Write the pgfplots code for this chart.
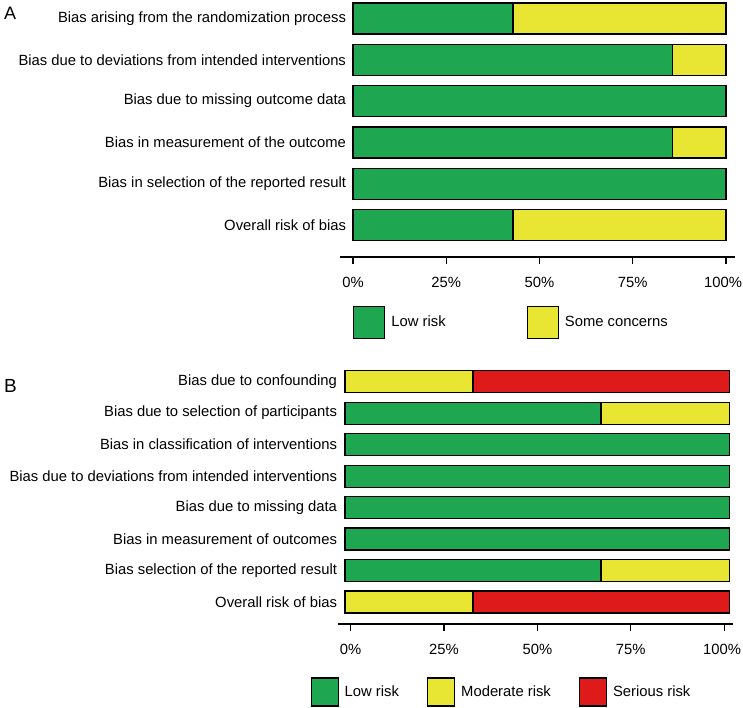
\documentclass[border=0pt]{standalone}
\usepackage{pgfplots}
\pgfplotsset{compat=1.18}
\usepackage{fontspec}
\setmainfont{Liberation Sans}
\definecolor{lowg}{RGB}{31,166,80}
\definecolor{someY}{RGB}{232,230,50}
\definecolor{serR}{RGB}{222,26,26}
\pgfplotsset{
  robbase/.style={
    scale only axis,
    xbar stacked,
    axis x line*=bottom, axis y line*=left,
    y axis line style={draw=none},
    x axis line style={line width=1.2pt,-},
    tick align=outside,
    major tick length=7pt,
    xtick style={line width=1.2pt,black},
    ytick style={draw=none},
    /pgf/number format/assume math mode=true,
    tick label style={font=\fontsize{14.8}{17}\selectfont},
    xticklabel style={yshift=-10pt},
    every axis plot/.append style={draw=black, line width=1.2pt},
    legend style={draw=none, fill=none, inner sep=0pt, font=\fontsize{14.8}{17}\selectfont,
      /tikz/every odd column/.append style={column sep=4pt}},
    legend cell align=left,
  }
}
\begin{document}
\begin{tikzpicture}
\useasboundingbox (0pt,0pt) rectangle (743pt,-708pt);
\node[anchor=north west, inner sep=0pt, font=\fontsize{18}{20}\selectfont] at (4pt,-7pt) {A};
\node[anchor=north west, inner sep=0pt, font=\fontsize{19}{21}\selectfont] at (4pt,-379pt) {B};

\begin{axis}[robbase,
  at={(340pt,-257pt)}, anchor=south west,
  width=395pt, height=255pt,
  bar width=31pt,
  xmin=-3.5, xmax=102.4, ymin=-0.775, ymax=5.4,
  xtick={0,25,50,75,100},
  xticklabels={0\%,25\%,50\%,75\%,\hspace*{-6pt}100\%},
  ytick={0,1,2,3,4,5},
  yticklabels={Overall risk of bias, Bias in selection of the reported result, Bias in measurement of the outcome, Bias due to missing outcome data, Bias due to deviations from intended interventions, Bias arising from the randomization process},
  yticklabel style={xshift=16.5pt},
  legend columns=2,
  legend style={at={(0.033,-0.19)}, anchor=north west,
    /tikz/every even column/.append style={column sep=79pt}},
  legend image code/.code={\draw[#1,draw=black,line width=1.2pt] (0pt,-16pt) rectangle (31pt,16pt);},
]
\addplot[fill=lowg] coordinates {(42.86,0) (100,1) (85.71,2) (100,3) (85.71,4) (42.86,5)};
\addplot[fill=someY] coordinates {(57.14,0) (0,1) (14.29,2) (0,3) (14.29,4) (57.14,5)};
\legend{Low risk, Some concerns}
\end{axis}

\begin{axis}[robbase,
  at={(338pt,-624pt)}, anchor=south west,
  width=395pt, height=253pt,
  bar width=22pt,
  xmin=-1.8, xmax=101, ymin=-0.7, ymax=7.34,
  xtick={1.5,25.8,50.1,74.4,98.7},
  xticklabels={0\%,25\%,50\%,75\%,\hspace*{-4pt}100\%},
  ytick={0,1,2,3,4,5,6,7},
  yticklabels={Overall risk of bias, Bias selection of the reported result, Bias in measurement of outcomes, Bias due to missing data, Bias due to deviations from intended interventions, Bias in classification of interventions, Bias due to selection of participants, Bias due to confounding},
  yticklabel style={xshift=9.5pt},
  legend columns=3,
  legend style={at={(-0.07,-0.21)}, anchor=north west,
    /tikz/every even column/.append style={column sep=26pt}},
  legend image code/.code={\draw[#1,draw=black,line width=1.2pt] (0pt,-14pt) rectangle (27pt,14pt);},
]
\addplot[fill=lowg] coordinates {(0,0) (66.67,1) (100,2) (100,3) (100,4) (100,5) (66.67,6) (0,7)};
\addplot[fill=someY] coordinates {(33.33,0) (33.33,1) (0,2) (0,3) (0,4) (0,5) (33.33,6) (33.33,7)};
\addplot[fill=serR] coordinates {(66.67,0) (0,1) (0,2) (0,3) (0,4) (0,5) (0,6) (66.67,7)};
\legend{Low risk, Moderate risk, Serious risk}
\end{axis}
\end{tikzpicture}
\end{document}
